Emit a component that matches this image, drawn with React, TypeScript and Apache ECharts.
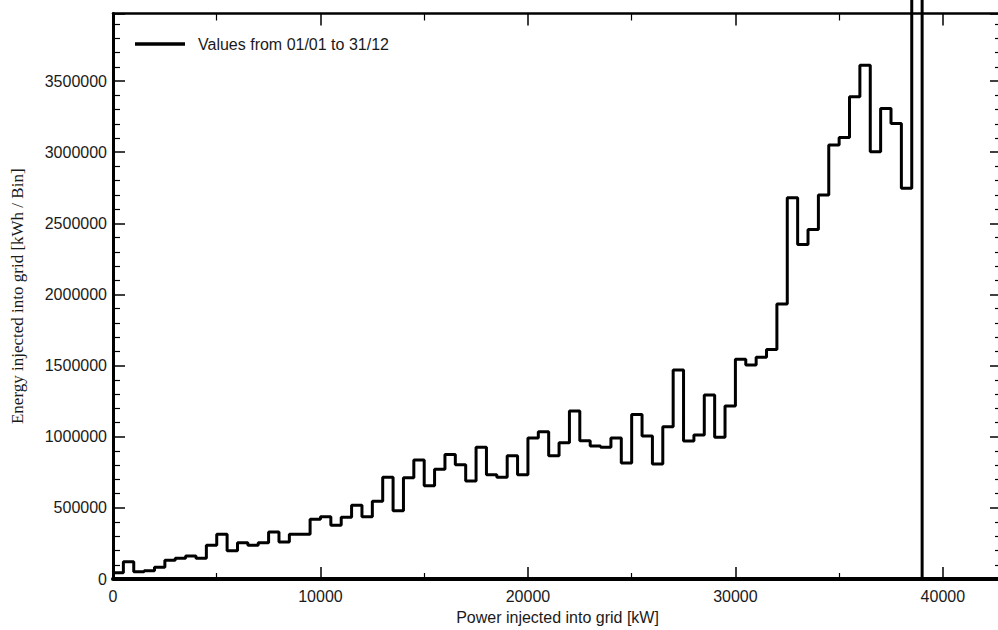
import React, { useEffect, useRef } from "react";
import * as echarts from "echarts";

// Bin starts [kW] (bin width 500 kW)
const binStartKW: number[] = [
  0, 500, 1000, 1500, 2000, 2500, 3000, 3500, 4000, 4500,
  5000, 5500, 6000, 6500, 7000, 7500, 8000, 8500, 9000, 9500,
  10000, 10500, 11000, 11500, 12000, 12500, 13000, 13500, 14000, 14500,
  15000, 15500, 16000, 16500, 17000, 17500, 18000, 18500, 19000, 19500,
  20000, 20500, 21000, 21500, 22000, 22500, 23000, 23500, 24000, 24500,
  25000, 25500, 26000, 26500, 27000, 27500, 28000, 28500, 29000, 29500,
  30000, 30500, 31000, 31500, 32000, 32500, 33000, 33500, 34000, 34500,
  35000, 35500, 36000, 36500, 37000, 37500, 38000, 38500, 39000,
];

// Energy per bin [kWh / Bin]; the 38500 bin is off the top of the scale, 39000+ is empty
const energyPerBin: number[] = [
  44000, 122000, 51000, 58000, 82000, 131000, 145000, 162000, 145000, 237000,
  314000, 199000, 255000, 237000, 255000, 330000, 260000, 314000, 314000, 420000,
  438000, 377000, 434000, 518000, 438000, 546000, 715000, 480000, 712000, 836000,
  656000, 771000, 876000, 803000, 689000, 926000, 733000, 715000, 866000, 733000,
  991000, 1035000, 866000, 958000, 1181000, 972000, 935000, 926000, 991000, 815000,
  1157000, 1005000, 808000, 1070000, 1469000, 970000, 1012000, 1293000, 996000, 1216000,
  1544000, 1504000, 1558000, 1614000, 1933000, 2680000, 2352000, 2457000, 2699000, 3050000,
  3104000, 3389000, 3612000, 3003000, 3308000, 3202000, 2746000, 4800000, 0,
];

const xTickInterval = 10000;
const yTickInterval = 500000;
const xMax = 42850;
const yMax = 3975000;

const seriesName = "Values from 01/01 to 31/12";
const xAxisName = "Power injected into grid [kW]";
const yAxisName = "Energy injected into grid [kWh / Bin]";

export default function App() {
  const ref = useRef<HTMLDivElement>(null);

  useEffect(() => {
    if (!ref.current) return;
    const chart = echarts.init(ref.current, undefined, { renderer: "svg" });

    const data: [number, number][] = binStartKW.map((x, i) => [x, energyPerBin[i]]);
    data.push([xMax, 0]);

    const sans = "Liberation Sans, Arial, sans-serif";
    const serif = "Liberation Serif, Times New Roman, serif";
    const ink = "#000";
    const plain = (v: number) => String(v);

    const tickCommon = {
      axisTick: { show: true, inside: true, length: 12, lineStyle: { color: ink, width: 1.5 } },
      splitLine: { show: false },
      minorSplitLine: { show: false },
    };

    chart.setOption({
      animation: false,
      backgroundColor: "#fff",
      grid: { left: 113, top: 13.5, width: 889, height: 565.5, outerBoundsMode: "none" },
      legend: {
        show: true,
        data: [seriesName],
        left: 135,
        top: 36,
        padding: 0,
        icon: "rect",
        itemWidth: 50,
        itemHeight: 3.5,
        itemStyle: { color: ink },
        textStyle: { fontFamily: sans, fontSize: 16, color: "#1a1a1a", padding: [0, 0, 0, 8] },
      },
      xAxis: [
        {
          type: "value",
          position: "bottom",
          min: 0,
          max: xMax,
          interval: xTickInterval,
          name: xAxisName,
          nameLocation: "middle",
          nameGap: 30,
          nameTextStyle: { fontFamily: sans, fontSize: 16, color: "#1a1a1a" },
          axisLine: { show: true, onZero: false, lineStyle: { color: ink, width: 4 } },
          axisLabel: { fontFamily: sans, fontSize: 16, color: "#1a1a1a", margin: 9, showMaxLabel: false, formatter: plain },
          ...tickCommon,
          minorTick: { show: true, splitNumber: 2, length: 6, lineStyle: { color: ink, width: 1.2 } },
        },
        {
          type: "value",
          position: "top",
          min: 0,
          max: xMax,
          interval: xTickInterval,
          axisLine: { show: true, onZero: false, lineStyle: { color: ink, width: 2.5 } },
          axisLabel: { show: false },
          ...tickCommon,
          minorTick: { show: true, splitNumber: 2, length: 7, lineStyle: { color: ink, width: 1.2 } },
        },
      ],
      yAxis: [
        {
          type: "value",
          position: "left",
          min: 0,
          max: yMax,
          interval: yTickInterval,
          name: yAxisName,
          nameLocation: "middle",
          nameRotate: 90,
          nameGap: 87,
          nameTextStyle: { fontFamily: serif, fontSize: 17, color: "#1a1a1a" },
          axisLine: { show: true, onZero: false, lineStyle: { color: ink, width: 3 } },
          axisLabel: { fontFamily: sans, fontSize: 16, color: "#1a1a1a", margin: 6, showMaxLabel: false, formatter: plain },
          ...tickCommon,
          minorTick: { show: true, splitNumber: 5, length: 7, lineStyle: { color: ink, width: 1.2 } },
        },
        {
          type: "value",
          position: "right",
          min: 0,
          max: yMax,
          interval: yTickInterval,
          axisLine: { show: true, onZero: false, lineStyle: { color: ink, width: 2.5 } },
          axisLabel: { show: false },
          ...tickCommon,
          minorTick: { show: true, splitNumber: 5, length: 7, lineStyle: { color: ink, width: 1.2 } },
        },
      ],
      series: [
        {
          name: seriesName,
          type: "line",
          step: "end",
          xAxisIndex: 0,
          yAxisIndex: 0,
          data,
          showSymbol: false,
          symbol: "none",
          clip: false,
          lineStyle: { color: ink, width: 3 },
          itemStyle: { color: ink },
          z: 1,
        },
      ],
    });

    return () => chart.dispose();
  }, []);

  return (
    <div
      ref={ref}
      style={{ position: "fixed", left: 0, top: 0, width: 998, height: 630, background: "#fff" }}
    />
  );
}
